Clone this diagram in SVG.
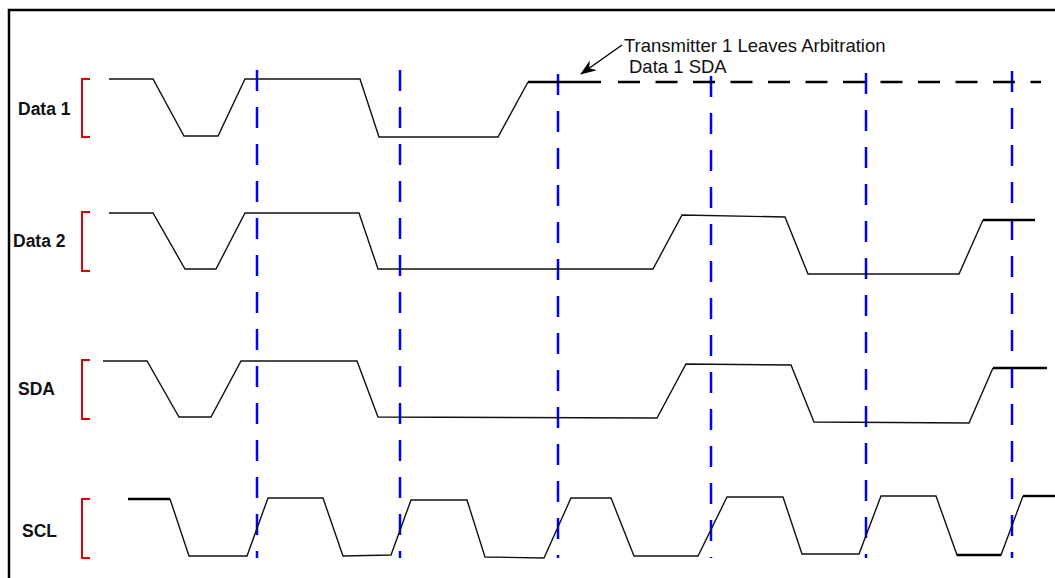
<svg xmlns="http://www.w3.org/2000/svg" width="1055" height="578" viewBox="0 0 1055 578">
<style>
.lbl{font-family:"Liberation Sans",Arial,sans-serif;font-size:17.5px;font-weight:bold;fill:#111}
.note{font-family:"Liberation Sans",Arial,sans-serif;font-size:18.5px;fill:#111}
.wave{fill:none;stroke:#111;stroke-width:1.4;stroke-linejoin:miter}
.thick{fill:none;stroke:#000;stroke-width:2.4}
.brk{fill:none;stroke:#e00000;stroke-width:2}
.clk{fill:none;stroke:#0000ff;stroke-width:2.5;stroke-dasharray:21 16}
</style>
<defs>
<marker id="ah" markerWidth="16" markerHeight="12" refX="15" refY="6" orient="auto" markerUnits="userSpaceOnUse">
<path d="M0,0 L16,6 L0,12 L5,6 z" fill="#000"/>
</marker>
</defs>
<rect x="0" y="0" width="1055" height="578" fill="#fff"/>
<rect x="9" y="10" width="1070" height="600" fill="none" stroke="#000" stroke-width="2.5"/>

<g id="clock-marks">
<line class="clk" x1="257" y1="70" x2="257" y2="558"/>
<line class="clk" x1="400" y1="70" x2="400" y2="558"/>
<line class="clk" x1="558" y1="74" x2="558" y2="558"/>
<line class="clk" x1="711" y1="76" x2="711" y2="558"/>
<line class="clk" x1="866" y1="73" x2="866" y2="558"/>
<line class="clk" x1="1012" y1="71" x2="1012" y2="558"/>
</g>

<g id="data1">
<text class="lbl" x="18" y="115">Data 1</text>
<path class="brk" d="M90,79 H82 V137 H90"/>
<path class="wave" d="M109,79 L153,79 L184,136 L218,136 L245,79 L360,79 L379,137 L498,137 L528,82"/>
<line class="thick" x1="528" y1="82" x2="601" y2="82"/>
<line class="thick" x1="618" y1="82" x2="1041" y2="82" stroke-dasharray="22 15.5"/>
</g>

<g id="data2">
<text class="lbl" x="13" y="247">Data 2</text>
<path class="brk" d="M90,212 H82 V271 H90"/>
<path class="wave" d="M109,213 L153,213 L185,269 L216,269 L245,213 L359,213 L378,269 L653,269 L682,215 L785,217 L808,274 L959,274 L983,220"/>
<line class="thick" x1="983" y1="220" x2="1035" y2="220"/>
</g>

<g id="sda">
<text class="lbl" x="18" y="395">SDA</text>
<path class="brk" d="M90,360 H82 V419 H90"/>
<path class="wave" d="M103,361 L147,361 L179,417 L211,417 L241,361 L357,361 L378,417 L657,418 L686,364 L791,365 L814,422 L969,423 L993,368"/>
<line class="thick" x1="993" y1="368" x2="1047" y2="368"/>
</g>

<g id="scl">
<text class="lbl" x="22" y="537">SCL</text>
<path class="brk" d="M90,499 H82 V558 H90"/>
<line class="thick" x1="128" y1="499" x2="170" y2="499"/>
<path class="wave" d="M170,499 L189,556 L247,556 L268,498 L323,498 L343,556 L391,555 L411,500 L467,500 L485,557 L544,558 L571,498 L611,498 L634,556 L698,556 L727,497 L783,497 L802,554 L859,554 L881,496 L936,496 L957,555 L1001,555 L1023,496"/>
<line class="thick" x1="957" y1="555" x2="1001" y2="555"/>
<line class="thick" x1="1023" y1="496" x2="1055" y2="496"/>
</g>

<g id="annotation">
<text class="note" x="624" y="52">Transmitter 1 Leaves Arbitration</text>
<text class="note" x="629" y="73">Data 1 SDA</text>
</g>

<g id="connectors">
<line x1="622" y1="45" x2="581" y2="74" stroke="#000" stroke-width="1.4" marker-end="url(#ah)"/>
</g>
</svg>
